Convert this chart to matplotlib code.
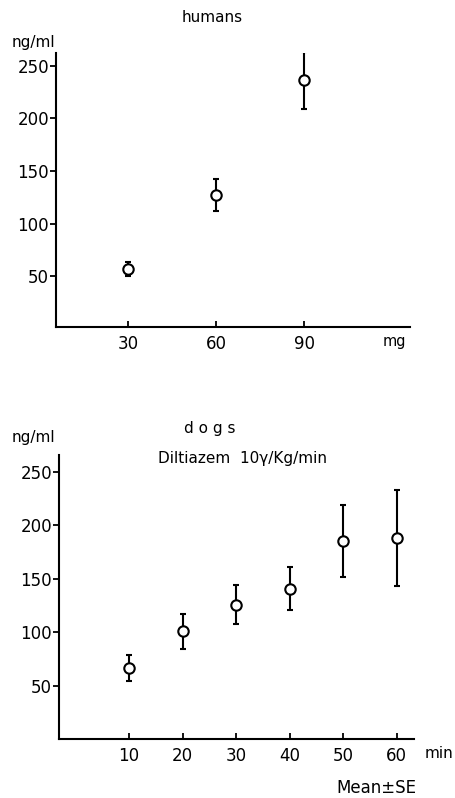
import matplotlib
matplotlib.use("Agg")
import matplotlib.pyplot as plt

plt.rcParams['font.family'] = ['DejaVu Sans']

# humans
human_dose = [30, 60, 90]
human_mean = [57, 127, 236]
human_se = [7, 15, 27]
human_xticks = [30, 60, 90]

# dogs
dog_time = [10, 20, 30, 40, 50, 60]
dog_mean = [67, 101, 126, 141, 185, 188]
dog_se = [12, 16.5, 18, 20, 33.5, 45]
dog_xticks = [10, 20, 30, 40, 50, 60]

yticks = [50, 100, 150, 200, 250]

fig = plt.figure(figsize=(4.55, 7.98), dpi=100)

def style(ax):
    for s in ['top', 'right']:
        ax.spines[s].set_visible(False)
    for s in ['left', 'bottom']:
        ax.spines[s].set_linewidth(1.5)
        ax.spines[s].set_color('black')
    ax.tick_params(axis='y', direction='out', length=4, width=1.3, labelsize=12, pad=1)
    ax.tick_params(axis='x', direction='in', length=4, width=1.3, labelsize=12, pad=6)
    ax.set_yticks(yticks)

ax1 = fig.add_axes([0.1231, 0.5902, 0.778, 0.3434])
ax1.errorbar(human_dose, human_mean, yerr=human_se, fmt='o', mfc='white', mec='black',
             mew=1.5, ms=7.5, ecolor='black', elinewidth=1.5, capsize=2.5, capthick=1.5, color='black')
ax1.set_xlim(5.5, 126)
ax1.set_ylim(2, 262)
ax1.set_xticks(human_xticks)
style(ax1)
fig.text(212/455, 1 - 18/798, 'humans', ha='center', va='center', fontsize=11)
fig.text(33/455, 1 - 43/798, 'ng/ml', ha='center', va='center', fontsize=11)
fig.text(394/455, 1 - 341/798, 'mg', ha='center', va='center', fontsize=10.5)

ax2 = fig.add_axes([0.1297, 0.0739, 0.7802, 0.3559])
ax2.errorbar(dog_time, dog_mean, yerr=dog_se, fmt='o', mfc='white', mec='black',
             mew=1.5, ms=7.5, ecolor='black', elinewidth=1.5, capsize=2.5, capthick=1.5, color='black')
ax2.set_xlim(-3.1, 63.2)
ax2.set_ylim(0.5, 265.6)
ax2.set_xticks(dog_xticks)
style(ax2)
fig.text(210/455, 1 - 428/798, 'd o g s', ha='center', va='center', fontsize=11)
fig.text(242/455, 1 - 459/798, 'Diltiazem  10γ/Kg/min', ha='center', va='center', fontsize=11)
fig.text(33/455, 1 - 437/798, 'ng/ml', ha='center', va='center', fontsize=11)
fig.text(439/455, 1 - 753/798, 'min', ha='center', va='center', fontsize=11)
fig.text(376/455, 1 - 788/798, 'Mean±SE', ha='center', va='center', fontsize=12)

fig.savefig('out.png', dpi=100)
